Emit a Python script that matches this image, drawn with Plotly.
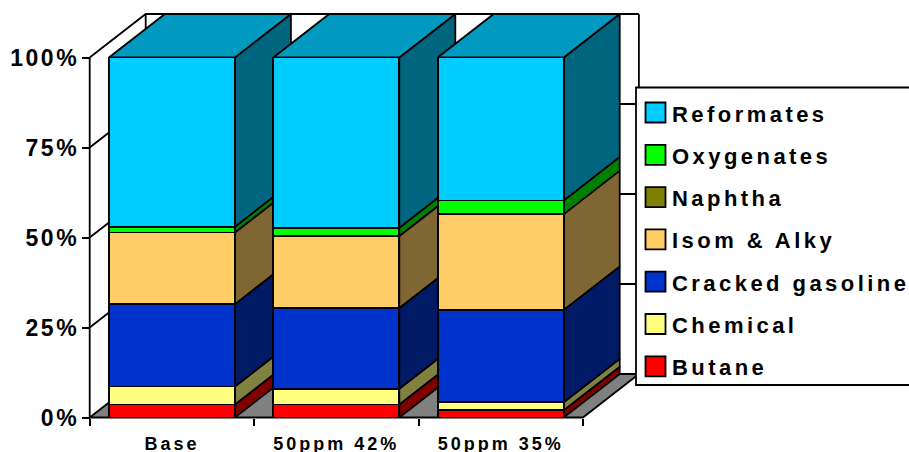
import plotly.graph_objects as go

# Share of each blend component, percent of the pool
categories = ["Base", "50ppm 42%", "50ppm 35%"]
series_names = ["Butane", "Chemical", "Cracked gasoline", "Isom & Alky", "Naphtha", "Oxygenates", "Reformates"]
butane = [3.6, 3.6, 2.0]
chemical = [5.0, 4.4, 2.2]
cracked_gasoline = [22.9, 22.4, 25.7]
isom_alky = [19.9, 20.0, 26.6]
naphtha = [0.0, 0.0, 0.0]
oxygenates = [1.6, 2.3, 3.8]
reformates = [47.0, 47.3, 39.7]
series_values = [butane, chemical, cracked_gasoline, isom_alky, naphtha, oxygenates, reformates]

front_colors = ["#FF0000", "#FFFF80", "#0033CC", "#FFCC66", "#808000", "#00FF00", "#00CCFF"]
side_colors = ["#800000", "#808040", "#001A66", "#806633", "#404000", "#008000", "#006680"]
top_color = "#0099BF"
floor_color = "#808080"
y_ticks = [0, 25, 50, 75, 100]

FIG_W, FIG_H = 909, 452
LEFT, RIGHT, TOP, BOTTOM = 79, 649, 4, 427   # plot area, px
X0_PX, Y0_PX = 89.7, 417.5                   # px position of the origin on the front plane
PX_PER_CAT, PX_PER_PCT = 164.4, 3.6
DX = 56 / PX_PER_CAT                          # oblique depth in category units
DY = 43.5 / PX_PER_PCT                        # oblique depth in percent units
BAR_WIDTH = 126 / PX_PER_CAT
N = len(categories)

x_range = [(LEFT - X0_PX) / PX_PER_CAT, (RIGHT - X0_PX) / PX_PER_CAT]
y_range = [(Y0_PX - BOTTOM) / PX_PER_PCT, (Y0_PX - TOP) / PX_PER_PCT]
centers = [i + 0.5 for i in range(N)]


def paper_x(px):
    return (px - LEFT) / (RIGHT - LEFT)


def paper_y(px):
    return (BOTTOM - px) / (BOTTOM - TOP)


def poly(xs, ys, fill=None, width=1.8, color="#000000"):
    return go.Scatter(
        x=xs, y=ys, mode="lines", line=dict(color=color, width=width),
        fill="toself" if fill else "none", fillcolor=fill,
        hoverinfo="skip", showlegend=False, xaxis="x", yaxis="y",
    )


fig = go.Figure()

# Floor of the box
fig.add_trace(poly([0, N, N + DX, DX, 0], [0, 0, DY, DY, 0], fill=floor_color))

# Walls: gridlines run from the front plane to the back wall and across it
for v in y_ticks[1:]:
    fig.add_trace(poly([0, DX, N + DX], [v, v + DY, v + DY]))
fig.add_trace(poly([DX, DX], [DY, 100 + DY]))
fig.add_trace(poly([N + DX, N + DX], [DY, 100 + DY]))
fig.add_trace(poly([0, 0], [0, 100]))

# Oblique side and top faces, stacked from the same values as the front faces
for i, c in enumerate(centers):
    xl, xr = c - BAR_WIDTH / 2, c + BAR_WIDTH / 2
    base = 0.0
    for values, side in zip(series_values, side_colors):
        top = base + values[i]
        if values[i] > 0:
            fig.add_trace(poly(
                [xr, xr + DX, xr + DX, xr, xr],
                [base, base + DY, top + DY, top, base], fill=side))
        base = top
    fig.add_trace(poly(
        [xl, xr, xr + DX, xl + DX, xl],
        [base, base, base + DY, base + DY, base], fill=top_color))

# Front faces on an overlaid subplot so they cover the neighbouring side faces
for name, values, color in zip(series_names, series_values, front_colors):
    fig.add_trace(go.Bar(
        x=centers, y=values, name=name, width=BAR_WIDTH,
        marker=dict(color=color, line=dict(color="#000000", width=1.8)),
        xaxis="x2", yaxis="y2", showlegend=False,
    ))

# Legend box and its entries, Reformates first
shapes = [dict(
    type="rect", xref="paper", yref="paper", layer="above",
    x0=paper_x(636), x1=paper_x(925), y0=paper_y(385), y1=paper_y(87.5),
    fillcolor="#FFFFFF", line=dict(color="#000000", width=1.8),
)]
annotations = []
for row, (name, color) in enumerate(zip(series_names[::-1], front_colors[::-1])):
    cy = 112.5 + row * 42.3
    shapes.append(dict(
        type="rect", xref="paper", yref="paper", layer="above",
        x0=paper_x(645.5), x1=paper_x(665.5), y0=paper_y(cy + 10), y1=paper_y(cy - 10),
        fillcolor=color, line=dict(color="#000000", width=1.8),
    ))
    annotations.append(dict(
        xref="paper", yref="paper", x=paper_x(670), y=paper_y(cy + 1.5),
        text=name, showarrow=False, xanchor="left", yanchor="middle", align="left",
        font=dict(family="Arial, Liberation Sans", size=22, color="#000000", weight="bold"),
    ))

label_font = dict(family="Arial, Liberation Sans", color="#000000", weight="bold")
fig.update_layout(
    width=FIG_W, height=FIG_H,
    margin=dict(l=LEFT, r=FIG_W - RIGHT, t=TOP, b=FIG_H - BOTTOM, pad=0, autoexpand=False),
    paper_bgcolor="#FFFFFF", plot_bgcolor="#FFFFFF",
    barmode="stack", showlegend=False,
    shapes=shapes, annotations=annotations,
    xaxis=dict(
        range=x_range, anchor="free", position=(BOTTOM - Y0_PX) / (BOTTOM - TOP),
        showgrid=False, zeroline=False, showline=False,
        tickmode="array", tickvals=list(range(N + 1)),
        ticktext=[""] * (N + 1), ticks="outside", ticklen=7, tickwidth=1.8, tickcolor="#000000",
    ),
    yaxis=dict(
        range=y_range, anchor="free", position=(X0_PX - LEFT) / (RIGHT - LEFT),
        showgrid=False, zeroline=False, showline=False,
        tickmode="array", tickvals=y_ticks, ticktext=[f"{v}%" for v in y_ticks],
        ticks="outside", ticklen=8, tickwidth=1.8, tickcolor="#000000",
        ticklabelstandoff=-2, tickfont=dict(size=23, **label_font),
    ),
    xaxis2=dict(
        range=x_range, overlaying="x", anchor="free", position=(BOTTOM - Y0_PX) / (BOTTOM - TOP),
        showgrid=False, zeroline=False, showline=False,
        tickmode="array", tickvals=centers, ticktext=categories, ticks="",
        ticklabelstandoff=13, tickfont=dict(size=18, **label_font),
    ),
    yaxis2=dict(
        range=y_range, overlaying="y", anchor="x2",
        showgrid=False, zeroline=False, showline=False, showticklabels=False, ticks="",
    ),
)

# The labels are set with wide tracking
tracking = """
var spacing = {'.ytick text': '2.5px', '.x2tick text': '3px', '.annotation text': '3.45px'};
Object.keys(spacing).forEach(function (sel) {
  document.querySelectorAll(sel).forEach(function (t) { t.style.letterSpacing = spacing[sel]; });
});
"""
fig.write_html("out.html", post_script=tracking, config=dict(displayModeBar=False))
